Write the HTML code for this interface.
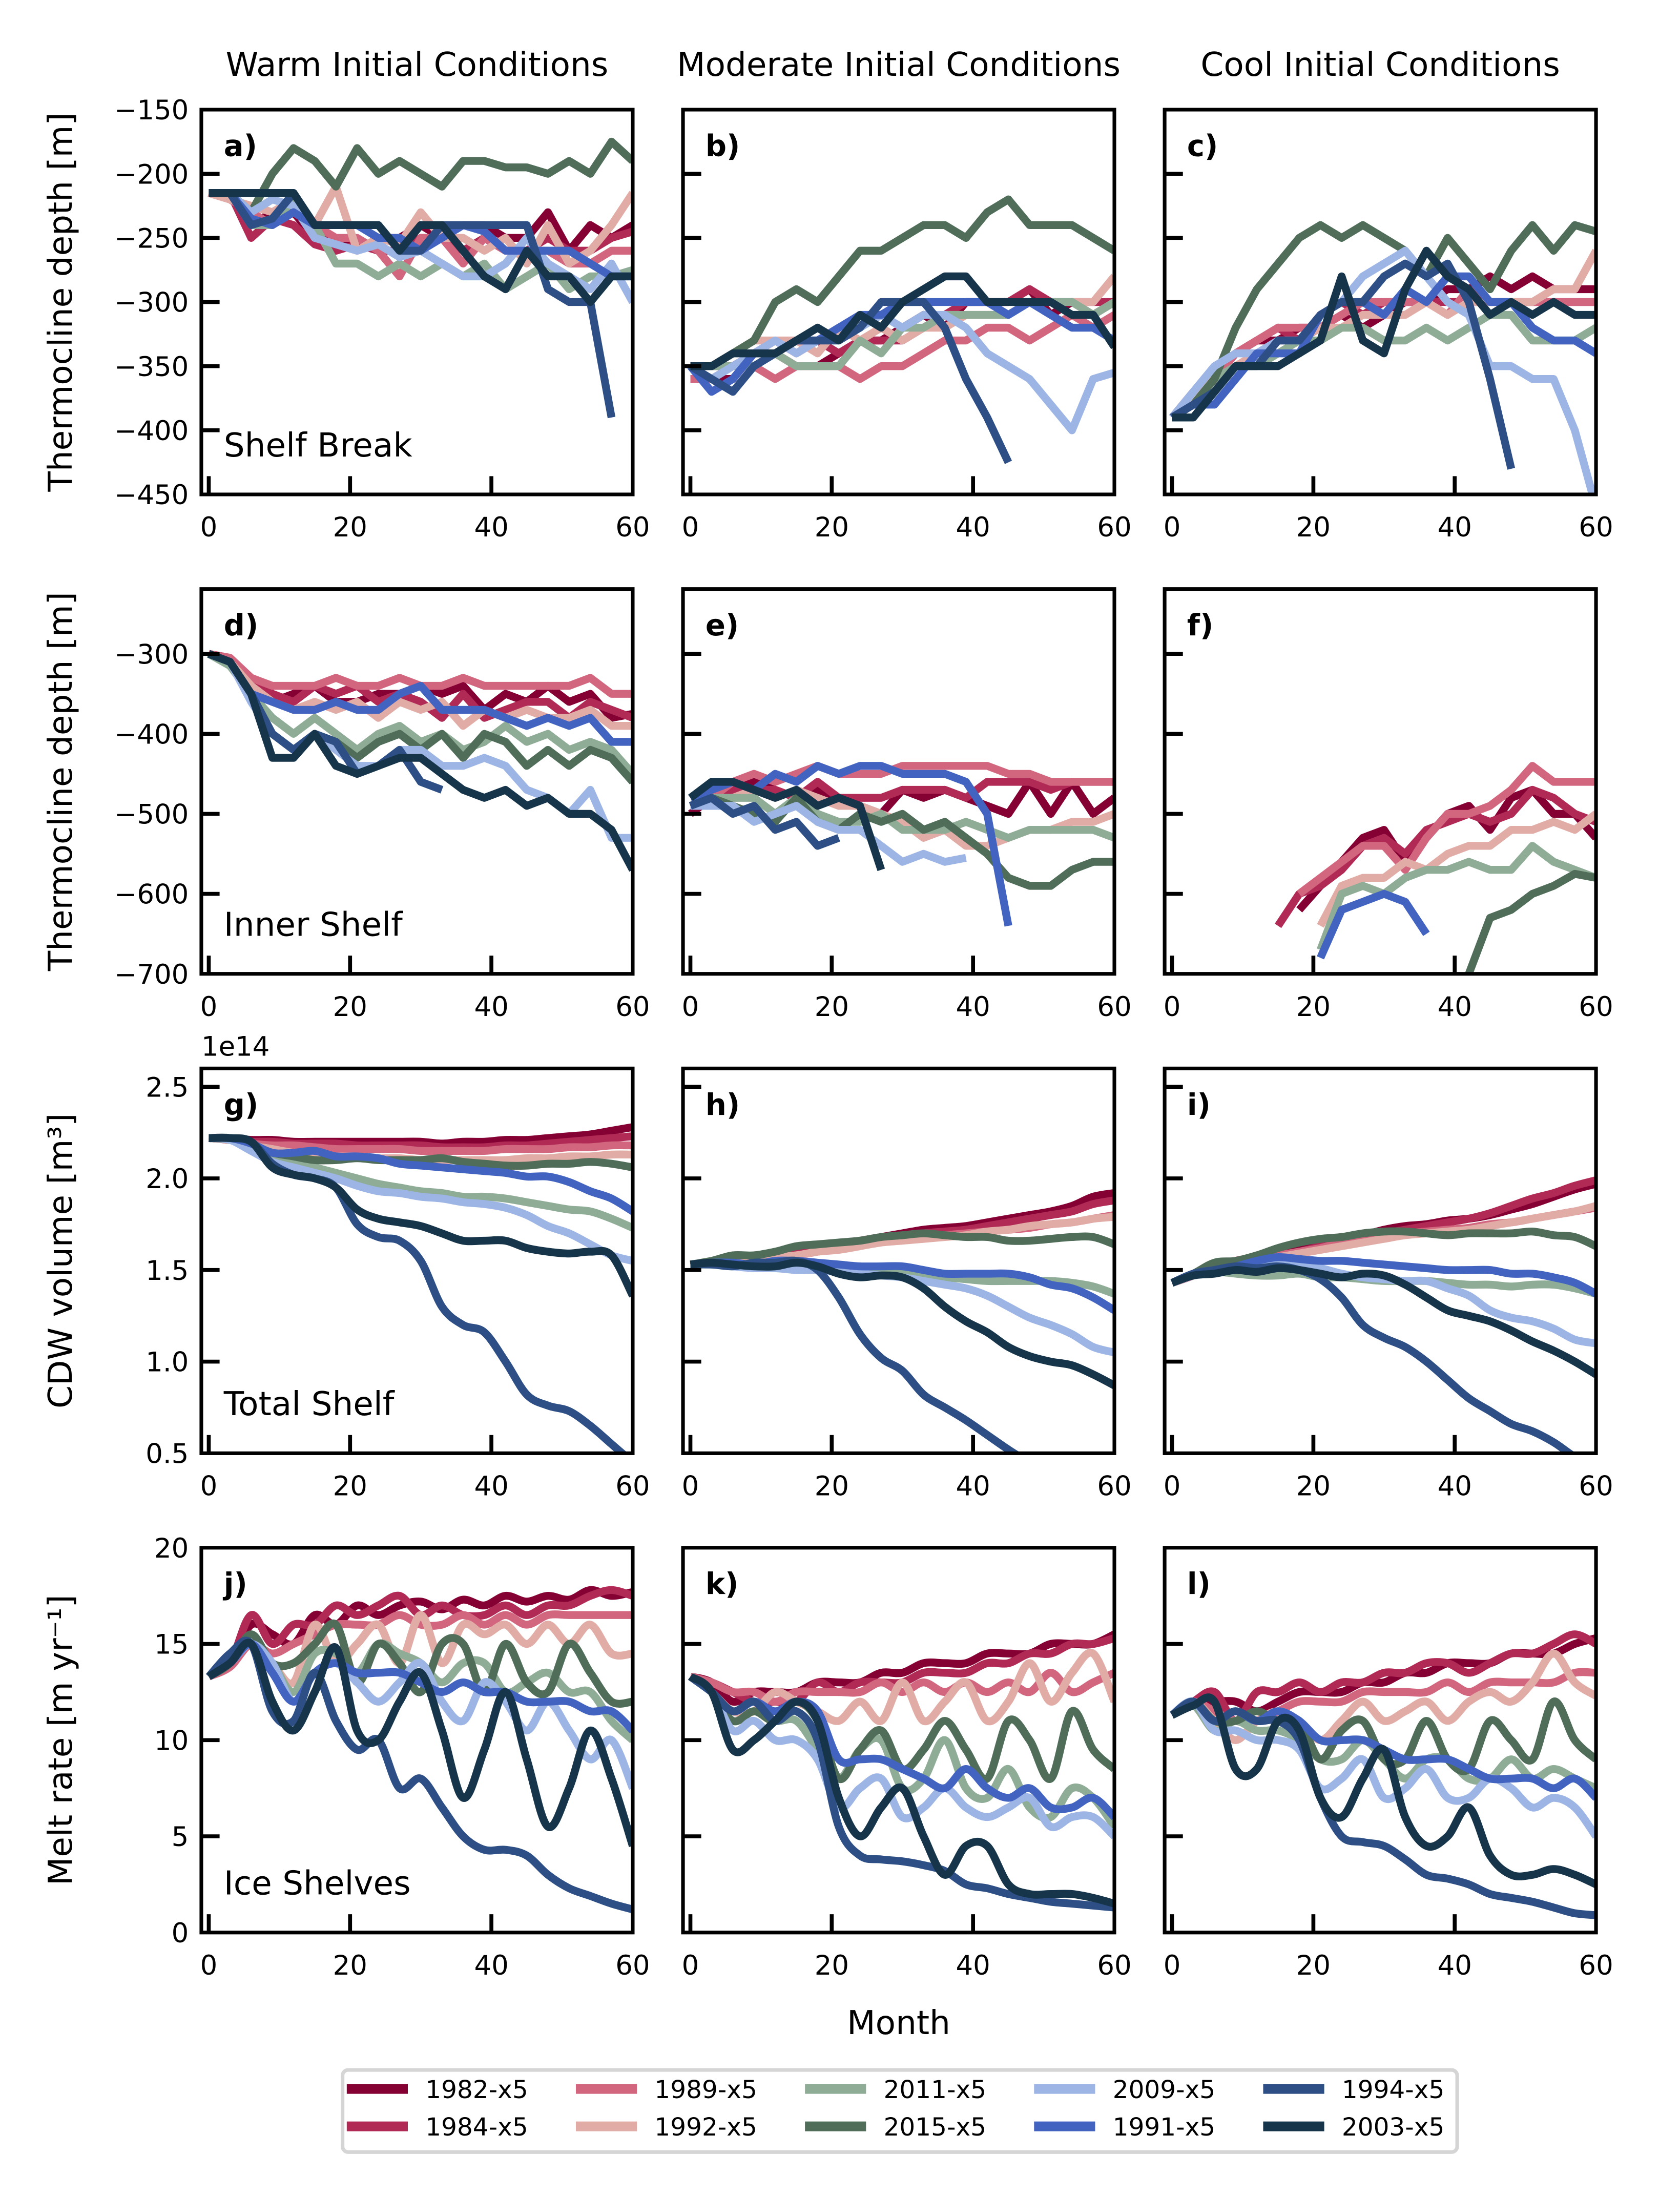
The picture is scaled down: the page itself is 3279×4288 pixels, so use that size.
<!DOCTYPE html>
<html><head><meta charset="utf-8"><title>Thermocline, CDW volume and melt rate</title>
<style>
html,body{margin:0;padding:0;background:#fff;}
svg{display:block;font-family:"DejaVu Sans","Liberation Sans",sans-serif;}
</style></head>
<body>
<svg id="fig" xmlns="http://www.w3.org/2000/svg" width="3279" height="4288" viewBox="0 0 1196.7 1565">
<rect x="0" y="0" width="1196.7" height="1565" fill="#fff"/>
</svg>
<script>
// ---- data ----
const months=[0,3,6,9,12,15,18,21,24,27,30,33,36,39,42,45,48,51,54,57,60];
const seriesNames=['1982-x5','1984-x5','1989-x5','1992-x5','2011-x5','2015-x5','2009-x5','1991-x5','1994-x5','2003-x5'];
const xTicks=[0,20,40,60];
const row1Ticks=[-450,-400,-350,-300,-250,-200,-150];
const row2Ticks=[-700,-600,-500,-400,-300];
const row3Ticks=[0.5,1.0,1.5,2.0,2.5];
const row3TickLabels=['0.5','1.0','1.5','2.0','2.5'];
const row4Ticks=[0,5,10,15,20];
const colTitles=['Warm Initial Conditions','Moderate Initial Conditions','Cool Initial Conditions'];
const panelLetters=['a)','b)','c)','d)','e)','f)','g)','h)','i)','j)','k)','l)'];
const regionLabels=['Shelf Break','Inner Shelf','Total Shelf','Ice Shelves'];

const panelA=[
[-215,-215,-240,-230,-230,-250,-250,-260,-250,-250,-240,-250,-240,-240,-250,-250,-230,-260,-240,-250,-240],
[-215,-215,-250,-235,-240,-255,-260,-255,-260,-260,-250,-250,-260,-250,-260,-260,-250,-260,-260,-250,-245],
[-215,-220,-230,-240,-230,-240,-250,-250,-260,-280,-250,-250,-270,-250,-260,-260,-260,-270,-270,-260,-260],
[-215,-220,-225,-230,-220,-240,-210,-260,-250,-255,-230,-250,-250,-260,-250,-270,-240,-270,-260,-240,-215],
[-215,-215,-240,-240,-220,-240,-270,-270,-280,-270,-280,-270,-280,-270,-290,-280,-270,-290,-280,-280,-275],
[-215,-215,-230,-200,-180,-190,-210,-180,-200,-190,-200,-210,-190,-190,-195,-195,-200,-190,-200,-175,-190],
[-215,-215,-230,-220,-225,-250,-255,-260,-255,-265,-260,-270,-280,-280,-270,-250,-270,-280,-290,-270,-300],
[-215,-215,-235,-240,-230,-240,-240,-240,-250,-250,-260,-250,-240,-245,-260,-260,-260,-260,-270,-280,-280],
[-215,-215,-240,-235,-215,-240,-240,-240,-240,-260,-260,-240,-240,-240,-240,-240,-290,-300,-300,-390,null],
[-215,-215,-215,-215,-215,-240,-240,-240,-240,-260,-240,-240,-260,-280,-290,-260,-280,-280,-300,-280,-280]];
const panelB=[
[-350,-360,-360,-340,-340,-350,-350,-340,-330,-330,-320,-310,-320,-300,-300,-300,-290,-310,-300,-310,-300],
[-350,-350,-350,-340,-330,-340,-330,-340,-330,-330,-330,-320,-310,-300,-300,-300,-290,-300,-300,-300,-300],
[-360,-360,-350,-350,-360,-350,-350,-350,-360,-350,-350,-340,-330,-330,-320,-320,-330,-320,-310,-320,-310],
[-350,-350,-340,-330,-330,-330,-340,-320,-330,-320,-330,-320,-320,-310,-310,-310,-300,-300,-300,-300,-280],
[-350,-350,-350,-350,-340,-350,-350,-350,-330,-340,-320,-320,-310,-310,-310,-310,-300,-300,-300,-310,-300],
[-350,-350,-340,-330,-300,-290,-300,-280,-260,-260,-250,-240,-240,-250,-230,-220,-240,-240,-240,-250,-260],
[-350,-360,-350,-340,-330,-340,-330,-320,-320,-310,-320,-310,-310,-320,-340,-350,-360,-380,-400,-360,-355],
[-350,-370,-360,-340,-340,-330,-330,-320,-310,-310,-300,-300,-300,-300,-300,-310,-300,-310,-320,-320,-330],
[-350,-360,-370,-350,-340,-330,-330,-330,-320,-300,-300,-300,-320,-360,-390,-425,null,null,null,null,null],
[-350,-350,-340,-340,-340,-330,-320,-330,-310,-320,-300,-290,-280,-280,-300,-300,-300,-300,-310,-310,-335]];
const panelC=[
[-390,-380,-360,-340,-330,-330,-320,-320,-310,-320,-310,-300,-300,-290,-290,-280,-290,-280,-290,-290,-290],
[-390,-380,-360,-340,-330,-320,-330,-310,-300,-310,-300,-300,-300,-300,-300,-300,-300,-300,-300,-300,-300],
[-390,-370,-360,-340,-330,-320,-320,-320,-310,-300,-300,-300,-300,-310,-290,-300,-300,-300,-300,-300,-300],
[-390,-370,-360,-350,-340,-330,-330,-320,-320,-310,-310,-310,-300,-310,-300,-300,-300,-300,-290,-290,-260],
[-390,-380,-360,-350,-350,-340,-330,-330,-320,-320,-330,-330,-320,-330,-320,-310,-310,-330,-330,-330,-320],
[-390,-380,-360,-320,-290,-270,-250,-240,-250,-240,-250,-260,-280,-250,-270,-290,-260,-240,-260,-240,-245],
[-390,-370,-350,-340,-340,-330,-330,-310,-300,-280,-270,-260,-280,-300,-310,-350,-350,-360,-360,-400,-460],
[-390,-380,-380,-360,-340,-340,-340,-310,-300,-300,-310,-290,-300,-280,-280,-300,-300,-320,-330,-330,-340],
[-390,-380,-370,-350,-350,-330,-330,-310,-300,-300,-280,-270,-280,-270,-300,-360,-430,null,null,null,null],
[-390,-390,-370,-350,-350,-350,-340,-330,-280,-330,-340,-290,-260,-280,-290,-310,-300,-310,-300,-310,-310]];
const panelD=[
[-300,-310,-330,-360,-350,-340,-360,-360,-350,-350,-340,-350,-340,-370,-350,-360,-340,-360,-350,-380,-375],
[-300,-305,-330,-350,-360,-340,-350,-340,-360,-350,-360,-380,-350,-380,-370,-360,-360,-380,-360,-370,-380],
[-300,-305,-330,-340,-340,-340,-330,-340,-340,-330,-340,-340,-330,-340,-340,-340,-340,-340,-330,-350,-350],
[-300,-310,-340,-360,-370,-360,-370,-360,-380,-360,-370,-360,-390,-370,-380,-370,-380,-380,-370,-390,-390],
[-300,-315,-350,-380,-400,-380,-400,-420,-400,-390,-410,-400,-420,-410,-390,-410,-400,-420,-410,-420,-450],
[-300,-310,-350,-400,-420,-400,-410,-430,-410,-400,-420,-400,-430,-400,-410,-440,-420,-440,-420,-430,-460],
[-300,-310,-360,-400,-420,-400,-420,-440,-440,-420,-420,-440,-440,-430,-440,-470,-480,-500,-470,-530,-530],
[-300,-310,-350,-360,-370,-370,-360,-370,-370,-350,-340,-370,-370,-370,-380,-390,-380,-390,-380,-410,-410],
[-300,-310,-350,-400,-420,-400,-410,-450,-440,-420,-460,-470,null,null,null,null,null,null,null,null,null],
[-300,-310,-350,-430,-430,-400,-440,-450,-440,-430,-430,-450,-470,-480,-470,-490,-480,-500,-500,-520,-570]];
const panelE=[
[-500,-480,-470,-460,-470,-480,-470,-480,-490,-500,-470,-480,-470,-480,-490,-500,-460,-500,-460,-500,-480],
[-490,-480,-470,-470,-470,-480,-460,-480,-480,-480,-470,-470,-470,-480,-460,-460,-460,-470,-460,-460,-460],
[-490,-480,-460,-450,-460,-450,-440,-450,-450,-450,-440,-440,-440,-440,-440,-450,-450,-460,-460,-460,-460],
[-490,-490,-480,-470,-480,-470,-480,-490,-490,-500,-510,-530,-520,-540,-540,-530,-520,-520,-510,-510,-500],
[-490,-480,-480,-480,-500,-480,-500,-510,-510,-500,-520,-520,-520,-510,-520,-530,-520,-520,-520,-520,-530],
[-490,-480,-490,-500,-510,-480,-510,-520,-500,-510,-500,-520,-510,-530,-550,-580,-590,-590,-570,-560,-560],
[-490,-490,-490,-510,-500,-490,-510,-520,-520,-540,-560,-550,-560,-555,null,null,null,null,null,null,null],
[-480,-470,-460,-470,-450,-460,-440,-450,-440,-440,-450,-450,-450,-460,-500,-640,null,null,null,null,null],
[-490,-480,-500,-490,-520,-510,-540,-530,null,null,null,null,null,null,null,null,null,null,null,null,null],
[-480,-460,-460,-470,-480,-470,-490,-480,-490,-570,null,null,null,null,null,null,null,null,null,null,null]];
const panelF=[
[null,null,null,null,null,null,-620,-590,-560,-530,-520,-560,-530,-500,-490,-520,-480,-470,-500,-500,-530],
[null,null,null,null,null,-640,-600,-590,-570,-540,-530,-550,-520,-510,-500,-510,-500,-470,-480,-500,-510],
[null,null,null,null,null,null,-600,-580,-560,-540,-540,-570,-530,-500,-500,-490,-470,-440,-460,-460,-460],
[null,null,null,null,null,null,null,-640,-590,-580,-580,-560,-570,-550,-540,-540,-520,-520,-510,-520,-500],
[null,null,null,null,null,null,null,-670,-600,-590,-600,-580,-570,-570,-560,-570,-570,-540,-560,-570,-580],
[null,null,null,null,null,null,null,null,null,null,null,null,null,null,-700,-630,-620,-600,-590,-575,-580],
[null,null,null,null,null,null,null,null,null,null,null,null,null,null,null,null,null,null,null,null,null],
[null,null,null,null,null,null,null,-680,-620,-610,-600,-610,-650,null,null,null,null,null,null,null,null],
[null,null,null,null,null,null,null,null,null,null,null,null,null,null,null,null,null,null,null,null,null],
[null,null,null,null,null,null,null,null,null,null,null,null,null,null,null,null,null,null,null,null,null]];
const panelG=[
[2.22,2.22,2.21,2.21,2.20,2.20,2.20,2.20,2.20,2.20,2.20,2.19,2.20,2.20,2.21,2.21,2.22,2.23,2.24,2.26,2.28],
[2.22,2.21,2.20,2.20,2.19,2.19,2.19,2.18,2.18,2.18,2.18,2.17,2.17,2.17,2.18,2.18,2.19,2.20,2.21,2.22,2.23],
[2.22,2.21,2.19,2.18,2.18,2.17,2.16,2.16,2.16,2.16,2.15,2.15,2.15,2.15,2.16,2.16,2.16,2.17,2.17,2.18,2.18],
[2.22,2.21,2.18,2.16,2.14,2.13,2.12,2.12,2.11,2.11,2.10,2.10,2.10,2.10,2.10,2.11,2.11,2.12,2.12,2.13,2.13],
[2.22,2.21,2.17,2.12,2.09,2.06,2.03,2.00,1.97,1.95,1.93,1.92,1.90,1.90,1.89,1.87,1.85,1.83,1.82,1.78,1.73],
[2.22,2.22,2.18,2.14,2.12,2.10,2.10,2.11,2.10,2.10,2.10,2.11,2.09,2.08,2.07,2.07,2.08,2.08,2.09,2.08,2.06],
[2.22,2.21,2.15,2.09,2.06,2.03,2.00,1.96,1.93,1.92,1.90,1.89,1.87,1.86,1.84,1.80,1.74,1.70,1.64,1.58,1.55],
[2.22,2.22,2.19,2.14,2.14,2.15,2.12,2.12,2.11,2.08,2.07,2.06,2.05,2.04,2.03,2.01,2.01,1.98,1.93,1.89,1.82],
[2.22,2.22,2.20,2.08,2.02,2.00,1.95,1.75,1.68,1.66,1.55,1.30,1.20,1.16,1.00,0.82,0.76,0.73,0.65,0.55,0.45],
[2.22,2.22,2.20,2.06,2.02,2.00,1.95,1.83,1.78,1.76,1.74,1.70,1.66,1.66,1.66,1.62,1.60,1.59,1.60,1.58,1.36]];
const panelH=[
[1.53,1.54,1.56,1.57,1.58,1.60,1.62,1.64,1.66,1.68,1.70,1.72,1.73,1.74,1.76,1.78,1.80,1.82,1.85,1.90,1.92],
[1.53,1.54,1.55,1.56,1.57,1.59,1.61,1.63,1.65,1.67,1.68,1.70,1.71,1.72,1.74,1.76,1.78,1.80,1.82,1.86,1.88],
[1.53,1.54,1.55,1.56,1.57,1.58,1.60,1.62,1.64,1.66,1.67,1.68,1.69,1.70,1.71,1.72,1.73,1.75,1.76,1.78,1.80],
[1.53,1.54,1.55,1.56,1.57,1.58,1.60,1.61,1.63,1.65,1.66,1.67,1.68,1.69,1.71,1.72,1.74,1.75,1.76,1.78,1.79],
[1.53,1.53,1.53,1.52,1.52,1.52,1.51,1.50,1.50,1.49,1.48,1.47,1.46,1.45,1.44,1.44,1.44,1.44,1.43,1.41,1.37],
[1.53,1.55,1.58,1.58,1.60,1.63,1.64,1.65,1.66,1.68,1.69,1.70,1.69,1.68,1.68,1.66,1.66,1.67,1.68,1.68,1.64],
[1.53,1.53,1.52,1.51,1.51,1.50,1.50,1.49,1.48,1.47,1.46,1.44,1.42,1.40,1.36,1.30,1.24,1.20,1.15,1.08,1.05],
[1.53,1.54,1.54,1.53,1.55,1.55,1.54,1.53,1.52,1.52,1.52,1.50,1.48,1.48,1.48,1.48,1.46,1.42,1.40,1.35,1.28],
[1.53,1.53,1.52,1.54,1.54,1.55,1.50,1.35,1.15,1.02,0.95,0.82,0.75,0.68,0.60,0.52,0.45,0.40,0.36,0.33,0.30],
[1.53,1.54,1.53,1.52,1.52,1.54,1.52,1.48,1.46,1.47,1.46,1.40,1.30,1.22,1.16,1.08,1.03,1.00,0.98,0.93,0.87]];
const panelI=[
[1.43,1.47,1.52,1.55,1.57,1.59,1.62,1.65,1.67,1.69,1.72,1.74,1.75,1.77,1.78,1.80,1.83,1.86,1.90,1.94,1.97],
[1.43,1.47,1.51,1.55,1.57,1.58,1.60,1.63,1.66,1.68,1.70,1.72,1.74,1.76,1.78,1.81,1.85,1.89,1.92,1.96,1.99],
[1.43,1.47,1.50,1.54,1.56,1.58,1.60,1.62,1.65,1.67,1.69,1.70,1.71,1.72,1.73,1.75,1.76,1.78,1.80,1.82,1.84],
[1.43,1.47,1.50,1.53,1.55,1.57,1.59,1.61,1.63,1.65,1.67,1.69,1.70,1.71,1.72,1.74,1.76,1.78,1.80,1.82,1.85],
[1.43,1.47,1.49,1.48,1.47,1.47,1.48,1.46,1.46,1.45,1.44,1.44,1.44,1.43,1.42,1.42,1.41,1.42,1.42,1.40,1.37],
[1.43,1.48,1.54,1.55,1.58,1.62,1.65,1.67,1.68,1.70,1.71,1.71,1.70,1.69,1.70,1.70,1.70,1.71,1.69,1.68,1.63],
[1.43,1.47,1.49,1.50,1.52,1.53,1.53,1.51,1.48,1.46,1.45,1.44,1.44,1.40,1.36,1.28,1.24,1.22,1.18,1.12,1.10],
[1.43,1.48,1.50,1.52,1.55,1.57,1.56,1.55,1.55,1.54,1.53,1.52,1.51,1.50,1.50,1.50,1.48,1.48,1.46,1.43,1.37],
[1.43,1.48,1.50,1.52,1.51,1.52,1.50,1.45,1.35,1.20,1.13,1.08,1.00,0.90,0.80,0.73,0.66,0.62,0.56,0.48,0.42],
[1.43,1.47,1.48,1.50,1.49,1.51,1.50,1.48,1.46,1.48,1.47,1.42,1.35,1.28,1.25,1.22,1.17,1.11,1.06,1.00,0.93]];
const panelJ=[
[13.3,14,16,15.5,15,16.5,16,17,16.5,17,17.2,16.8,17.3,17,17.5,17.2,17.5,17.3,17.8,17.5,17.7],
[13.3,14,16.5,15,16,16,17,16.5,17,17.5,16.5,17,16.5,16.5,17,16.5,17,17,17.5,17.8,17.5],
[13.3,13.8,15,14.5,15,15.5,16,16,16,16.5,16,16,16.5,16,16.5,16,16.5,16.5,16.5,16.5,16.5],
[13.3,14,15,14,13,16,14,15,16,14,16.5,14,16,15.5,16,15,16,15,16,14.5,14.5],
[13.3,14,15,14,12.5,14.5,14.5,13.5,15,14.5,14,13,14,14,12.5,13,13.5,12.5,12.5,11,10],
[13.3,14,15.5,14,14,15,16,13,15,14,12.5,15,15,12.5,15,13,12.5,15,13.5,12,12],
[13.3,14,15,14,12,13.5,14,13,12,13,14,12,11,13,12,10.5,12,10.5,9,10,7.5],
[13.3,14,15,13.5,12,13.5,14,13.5,13.5,13.5,13,12.5,13,12.5,12.5,12,12,12,11.5,11.5,10.5],
[13.3,14.5,15,11.5,11,13.5,11,9.5,10,7.5,8,6.5,5,4.3,4.3,4,3,2.3,1.9,1.5,1.2],
[13.3,14,15,12,10.5,12.5,14.8,10.5,10,12,13.5,10.5,7,9.5,12.5,9,5.5,7.5,10.5,8,4.5]];
const panelK=[
[13.3,13,12,12.5,12.5,12.5,13,13,13,13.5,13.5,14,14,14,14.5,14.5,14.5,15,15,15,15.5],
[13.3,13,12.5,12,12,12,13,12.5,13,13,13,13.5,13.5,13.5,14,14,14.5,14.5,15,15,15.3],
[13.3,13,12.5,12.5,12,12.5,12.5,12.5,12.5,13,12.5,13,12.5,13,12.5,13,12.5,13.5,12.5,13,13.5],
[13.3,12.5,11.5,11.5,12.5,12,11.5,11,12,11,13,11,12,13,11,12,14,12,13.5,14.5,12],
[13.3,12.5,11,11.5,11,11,9.5,8,9.5,10,7.5,8,10,7.5,7,8.5,6.5,6,7.5,7,5.5],
[13.3,12.5,11,11.5,11,12,11,8,9.5,10.5,8.5,9.5,11,9.5,8,11,10,8,11.5,9.5,8.5],
[13.3,12.5,10.5,11,10,10,9,6.5,7.5,8,6,6.5,7.5,6.5,6,6.5,7,5.5,6,6,5],
[13.3,12.5,11.5,12,11.5,12,11.5,9,9,9,8.5,8,7.5,8.5,7.5,7,7.5,6.5,6.5,7,6],
[13.3,12.5,11.5,12,11,11.5,10,5.5,4,3.8,3.7,3.5,3.2,2.5,2.3,2,1.8,1.6,1.5,1.4,1.3],
[13.3,12.5,9.5,10,11,12,11,7,5,6.5,7.5,5,3,4.5,4.5,2.5,2,2,2,1.8,1.5]];
const panelL=[
[11.3,12,12,12,11.5,12,12.5,12.5,12.5,13,13,13.5,13.5,14,14,14,14.5,14.5,14.5,15,15.3],
[11.3,12,12.5,11,12.5,12.5,13,12.5,13,13,13.5,13.5,14,14,13.5,14,14.5,14.5,15,15.5,15],
[11.3,12,11.5,11,11,11.5,12,12,12,12.5,12.5,12.5,12.5,13,12.5,13,13,13,13,13.5,13.5],
[11.3,12,11,10,11,11.5,11,10,11,12,11,11.5,12,11,12,12.5,12,13,14.5,13,12.3],
[11.3,11.8,10.5,11,10.5,10.5,10,9,9,10,9,8,9,9,8,8,9,8,8.5,8,7.5],
[11.3,12,11,11,11.5,11,11,9,10.5,11,9,9,11,9,8.5,11,10,9,12,10,9],
[11.3,12,10.5,10.5,10,10,9.5,7.5,8,9,7,7.5,8.5,7,7,8,7.5,6.5,7,6.5,5],
[11.3,12,11,11.5,11,11.5,11,10,10,10,9.5,9,9,9,8.5,8,8,8,7.5,8,7],
[11.3,12,11,11.5,11,11,10,7,5,4.7,4.5,3.8,3,2.8,2.5,2,1.8,1.6,1.3,1,0.9],
[11.3,11.8,12,8.5,8.5,11,10.5,7,6,8,9.5,6,4.5,5,6.5,4,3,3,3.3,3,2.5]];

// ---- styles / layout ----
const seriesColors=['#850033','#b02a55','#d2667e','#e2aca6','#8fac96','#4f6d58','#9db5e5','#4263c0','#2d4f85','#17354a'];
const NS='http://www.w3.org/2000/svg';
const svg=document.getElementById('fig');
const colX=[143.4,486.5,829.6], rowY=[78.1,419.6,761.1,1102.5], PW=307.3, PH=274.1;
const xDom=[-1.05,60];
const rowDoms=[[-450,-150],[-700,-219],[0.5,2.6],[0,20]];
const panelsData=[panelA,panelB,panelC,panelD,panelE,panelF,panelG,panelH,panelI,panelJ,panelK,panelL];
const rowTickSets=[row1Ticks,row2Ticks,row3Ticks,row4Ticks];
const rowTickLabels=[row1Ticks.map(v=>String(v).replace('-','\u2212')),row2Ticks.map(v=>String(v).replace('-','\u2212')),row3TickLabels,row4Ticks.map(String)];
const yTitles=['Thermocline depth [m]','Thermocline depth [m]','CDW volume [m\u00b3]','Melt rate [m yr\u207b\u00b9]'];

function mk(tag,attrs,parent){const e=document.createElementNS(NS,tag);for(const k in attrs)e.setAttribute(k,attrs[k]);(parent||svg).appendChild(e);return e;}
function xs(c,v){return colX[c]+(v-xDom[0])/(xDom[1]-xDom[0])*PW;}
function ys(r,v){const d=rowDoms[r];return rowY[r]+PH-(v-d[0])/(d[1]-d[0])*PH;}

function pathFor(pts,smooth){
  // pts: array of segments (arrays of [x,y])
  let d='';
  for(const seg of pts){
    if(seg.length<2)continue;
    d+='M'+seg[0][0].toFixed(2)+','+seg[0][1].toFixed(2);
    for(let i=1;i<seg.length;i++){
      if(!smooth){d+='L'+seg[i][0].toFixed(2)+','+seg[i][1].toFixed(2);continue;}
      const p0=seg[Math.max(0,i-2)],p1=seg[i-1],p2=seg[i],p3=seg[Math.min(seg.length-1,i+1)];
      const c1x=p1[0]+(p2[0]-p0[0])/6,c1y=p1[1]+(p2[1]-p0[1])/6;
      const c2x=p2[0]-(p3[0]-p1[0])/6,c2y=p2[1]-(p3[1]-p1[1])/6;
      d+='C'+c1x.toFixed(2)+','+c1y.toFixed(2)+' '+c2x.toFixed(2)+','+c2y.toFixed(2)+' '+p2[0].toFixed(2)+','+p2[1].toFixed(2);
    }
  }
  return d;
}

const defs=mk('defs',{});
// column titles
for(let c=0;c<3;c++){
  const t=mk('text',{x:colX[c]+PW/2,y:54,'text-anchor':'middle','font-size':'23.5',fill:'#000'});
  
  
  t.textContent=colTitles[c];
}
for(let r=0;r<4;r++){
  // y axis title
  const cy=rowY[r]+PH/2;
  const yt=mk('text',{x:0,y:0,transform:'translate(51,'+cy+') rotate(-90)','text-anchor':'middle','font-size':'23.5',fill:'#000'});
  
  
  yt.textContent=yTitles[r];
  for(let c=0;c<3;c++){
    const p=r*3+c, x0=colX[c], y0=rowY[r];
    const g=mk('g',{});
    
    
    const cp=mk('clipPath',{id:'cp'+p},defs);
    mk('rect',{x:x0,y:y0,width:PW,height:PH},cp);
    const lines=mk('g',{'clip-path':'url(#cp'+p+')'},g);
    const data=panelsData[p];
    for(let s=0;s<data.length;s++){
      const segs=[];let cur=[];
      for(let i=0;i<months.length;i++){
        const v=data[s][i];
        if(v===null){if(cur.length)segs.push(cur);cur=[];continue;}
        cur.push([xs(c,months[i]),ys(r,v)]);
      }
      if(cur.length)segs.push(cur);
      const d=pathFor(segs,r>=2);
      if(!d)continue;
      const pe=mk('path',{d:d,fill:'none',stroke:seriesColors[s],'stroke-width':'5.6','stroke-linejoin':'round','stroke-linecap':'butt'},lines);
      
      
    }
    // ticks
    const tg=mk('g',{stroke:'#000','stroke-width':'2.8'},g);
    
    
    rowTickSets[r].forEach((v,k)=>{
      const yy=ys(r,v);
      if(yy>y0+0.5&&yy<y0+PH-0.5) mk('line',{x1:x0,x2:x0+13,y1:yy,y2:yy},tg);
      if(c===0){
        const tl=mk('text',{x:x0-9,y:yy+7,'text-anchor':'end','font-size':'19.3',fill:'#000',stroke:'none'},g);
        
        
        tl.textContent=rowTickLabels[r][k];
      }
    });
    xTicks.forEach(v=>{
      const xx=xs(c,v);
      if(xx<x0+PW-1) mk('line',{x1:xx,x2:xx,y1:y0+PH,y2:y0+PH-13},tg);
      const tl=mk('text',{x:xx,y:y0+PH+30,'text-anchor':'middle','font-size':'19.3',fill:'#000'},g);
      
      
      tl.textContent=String(v);
    });
    // frame
    const fr=mk('rect',{x:x0,y:y0,width:PW,height:PH,fill:'none',stroke:'#000','stroke-width':'2.6'},g);
    
    
    const lt=mk('text',{x:x0+16,y:y0+33,'font-size':'21','font-weight':'bold',fill:'#000'},g);
    
    
    lt.textContent=panelLetters[p];
    if(c===0){
      const rl=mk('text',{x:x0+16,y:y0+247,'font-size':'23.5',fill:'#000'},g);
      
      
      rl.textContent=regionLabels[r];
    }
  }
}
// offset text
const off=mk('text',{x:143.4,y:752,'font-size':'19.3',fill:'#000'});


off.textContent='1e14';
// x axis title
const xt=mk('text',{x:colX[1]+PW/2,y:1449,'text-anchor':'middle','font-size':'23.5',fill:'#000'});


xt.textContent='Month';
// legend
const lg=mk('g',{});


mk('rect',{x:244,y:1474.5,width:794,height:58.5,rx:4,fill:'#fff',stroke:'#d5d5d5','stroke-width':'2.6'},lg);
for(let s=0;s<seriesNames.length;s++){
  const col=Math.floor(s/2), row=s%2;
  const lx=247+col*163.2, ly=1488+row*26.7;
  const e=mk('g',{},lg);
  
  
  mk('line',{x1:lx,x2:lx+43.5,y1:ly,y2:ly,stroke:seriesColors[s],'stroke-width':'7'},e);
  const t=mk('text',{x:lx+56,y:ly+6.5,'font-size':'17.7',fill:'#000'},e);
  t.textContent=seriesNames[s];
}
</script>
</body></html>
